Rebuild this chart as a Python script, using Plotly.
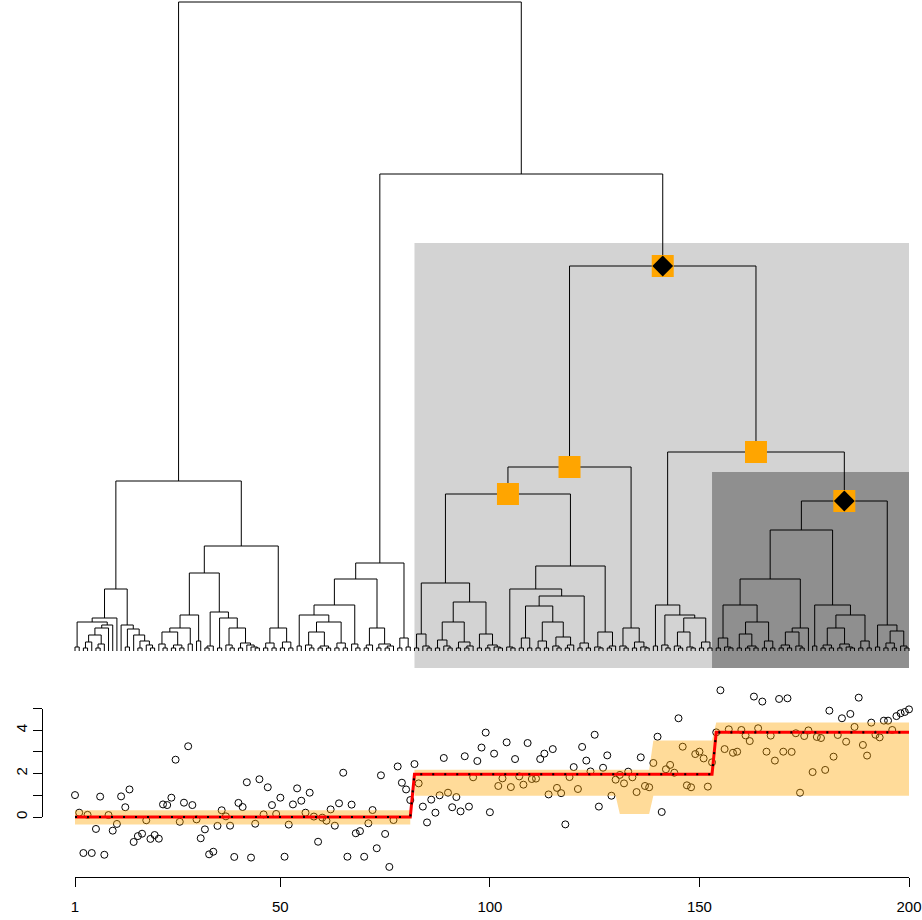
import plotly.graph_objects as go

# ---------------- data ----------------
obs_index = list(range(1, 201))
obs_values = [1.01, 0.2, -1.66, 0.1, -1.66, -0.55, 0.94, -1.74, 0.09, -0.63,
              -0.32, 0.95, 0.45, 1.27, -1.15, -0.88, -0.77, -0.15, -1.01, -0.83,
              -1.0, 0.58, 0.55, 0.89, 2.64, -0.22, 0.66, 3.26, 0.55, -0.11,
              -0.98, -0.57, -1.72, -1.6, -0.41, 0.31, 0.03, -0.4, -1.84, 0.65,
              0.46, 1.6, -1.87, -0.31, 1.74, 0.12, 1.37, 0.55, 0.14, 0.89,
              -1.83, -0.35, 0.58, 1.32, 0.75, 0.2, 1.12, 0.02, -1.14, -0.03,
              -0.17, 0.35, -0.4, 0.63, 2.04, -1.83, 0.57, -0.75, -0.65, -1.83,
              -0.29, 0.32, -1.44, 1.92, -0.78, -2.3, -0.14, 2.33, 1.58, 1.27,
              0.78, 2.44, 1.55, 0.48, -0.25, 0.8, 0.2, 1.0, 2.72, 1.12,
              0.45, 0.92, 0.26, 2.8, 0.48, 1.83, 2.58, 3.2, 3.89, 0.22,
              2.92, 1.43, 1.78, 3.44, 1.38, 2.67, 1.87, 1.49, 3.41, 1.75,
              1.77, 2.67, 2.92, 1.04, 3.13, 1.34, 1.1, -0.34, 1.84, 2.3,
              1.29, 3.23, 2.6, 2.1, 3.79, 0.48, 2.27, 2.84, 0.98, 1.72,
              1.94, 1.55, 2.09, 1.83, 1.15, 2.75, 1.43, 1.37, 2.49, 3.7,
              0.23, 2.2, 2.4, 2.04, 4.55, 3.24, 1.46, 1.37, 2.9, 3.01,
              2.7, 1.4, 2.52, 3.9, 5.84, 3.13, 4.04, 2.96, 3.01, 4.01,
              3.76, 3.5, 5.55, 4.09, 5.32, 3.01, 3.75, 2.6, 5.44, 3.01,
              5.47, 3.0, 3.86, 1.12, 3.73, 3.99, 2.07, 3.69, 3.64, 2.17,
              4.9, 2.78, 3.78, 4.55, 3.47, 4.75, 4.15, 5.5, 3.32, 2.83,
              4.35, 3.79, 3.67, 4.44, 4.44, 4.01, 4.65, 4.78, 4.84, 4.96]

# fitted segment means: (segment length, mean)
seg_lengths = [81, 72, 47]
seg_means = [0.0, 1.97, 3.9]

# uncertainty band runs: (run length, lower, upper, polygon group)
band_lengths = [81, 49, 8, 15, 47]
band_lower = [-0.34, 0.98, 0.14, 0.98, 0.98]
band_upper = [0.31, 2.18, 2.18, 3.52, 4.36]
band_group = [0, 1, 1, 1, 1]

# dendrogram (leaves in observation order); node = [left, right, merge height]
S3_8 = [[[3, 4, 3], 5, 9], [[6, 7, 3], 8, 7], 16]
LA1 = [[[1, 2, 4], [[S3_8, 9, 23], 10, 26], 29], 11, 33]
LA2 = [12, [[13, 14, 4], [15, [[16, 17, 3], [18, [19, 20, 3], 6], 10], 16], 22], 26]
LA = [LA1, LA2, 62]
A21 = [[21, [22, 23, 3], 7], [[24, 25, 3], [26, 27, 3], 6], 19]
LB1a = [[A21, [28, 29, 7], 23], [30, 31, 10], 36]
LB1b = [[[32, 33, 3], 34, 5],
        [[35, 36, 3], [[37, [38, 39, 3], 6], [[40, 41, 3], [42, [43, [44, 45, 3], 4], 6], 8], 23], 33], 39]
LB1 = [LB1a, LB1b, 78]
LB2 = [[[46, 47, 3], [48, 49, 3], 8], [[50, 51, 3], [52, 53, 3], 9], 23]
LB = [LB1, LB2, 105]
L = [LA, LB, 170]

R1a1a2 = [[[56, [57, 58, 3], 6], [[59, 60, 3], [61, 62, 3], 5], 19], [[63, 64, 3], [65, 66, 3], 8], 29]
R1a1 = [[[54, 55, 5], R1a1a2, 36], [67, [68, 69, 3], 7], 46]
R1a2 = [[[70, 71, 3], 72, 6], [[73, 74, 3], [[75, 76, 3], 77, 5], 7], 23]
R1a = [R1a1, R1a2, 72]
R1b = [[78, 79, 3], [80, 81, 4], 13]
R1 = [R1a, R1b, 88]

n419 = [[82, 83, 3], [84, [85, 86, 3], 5], 17]
n92 = [[[87, 88, 3], [89, [90, 91, 3], 5], 11], [[92, 93, 3], [[94, 95, 3], 96, 5], 9], 29]
n100 = [[97, 98, 3], [[99, 100, 3], [101, [102, 103, 3], 4], 6], 17]
R2a1a = [n419, [n92, n100, 49], 68]
n541 = [[[107, 108, 3], [109, 110, 3], 13],
        [[[111, 112, 3], [113, 114, 3], 10], [[115, [116, 117, 3], 5], [[118, 119, 3], 120, 6], 14], 29], 45]
n562 = [n541, [[121, 122, 3], [123, 124, 3], 8], 55]
n535 = [[104, [105, 106, 3], 4], n562, 62]
n608 = [[125, [126, 127, 3], 4], [[128, 129, 3], 130, 5], 19]
R2a1b = [n535, n608, 85]
R2a1 = [R2a1a, R2a1b, 157]
R2a2 = [[131, [132, 133, 3], 5], [[134, 135, 3], [136, [137, 138, 3], 4], 9], 23]
R2a = [R2a1, R2a2, 184]

n669 = [[139, 140, 5],
        [[141, [142, 143, 3], 6],
         [[[144, [145, 146, 3], 5], [147, [148, 149, 3], 4], 19], [[150, 151, 3], [152, 153, 3], 9], 33], 36], 46]
n741 = [[[154, 155, 3], [156, [157, 158, 3], 4], 13],
        [[[159, 160, 3], [[161, 162, 3], [163, 164, 3], 5], 17], [[165, 166, 3], [167, 168, 3], 10], 29], 46]
n801 = [[[[169, 170, 3], [171, 172, 3], 6], [173, [174, 175, 3], 5], 19], 176, 23]
n771 = [n741, n801, 72]
n832 = [[177, 178, 5],
        [[[[179, 180, 3], [181, 182, 3], 6], [[183, 184, 3], [185, [186, 187, 3], 4], 7], 23],
         [[188, 189, 3], [190, 191, 3], 10], 36], 46]
n888 = [[192, 193, 4], [[[194, 195, 3], [196, 197, 3], 8], [198, [199, 200, 3], 5], 20], 26]
n846 = [[n771, n832, 121], n888, 150]
R2b = [n669, n846, 199]
R2 = [R2a, R2b, 385]
R = [R1, R2, 477]
tree = [L, R, 649]

# highlighted clusters (leaf ranges)
square_nodes = [(82, 200), (82, 138), (82, 130), (139, 200), (154, 200)]
diamond_nodes = [(82, 200), (154, 200)]

# ---------------- geometry (pixels) ----------------
W, H = 922, 920
PX_FIRST, PX_LAST = 75, 909          # x pixel of leaf/obs 1 and 200
BASE_PX = 651                        # dendrogram leaf baseline
scale = (PX_LAST - PX_FIRST) / 199.0
xr_full = [1 - PX_FIRST / scale, 200 + (W - PX_LAST) / scale]

# ---------------- dendrogram layout ----------------
seg_x, seg_y, leaves, node_pos = [], [], [], {}


def walk(node):
    if isinstance(node, int):
        leaves.append(node)
        return float(node), 0.0, node, node
    xl, hl, lo, _ = walk(node[0])
    xr, hr, _, hi = walk(node[1])
    h = node[2]
    seg_x.extend([xl, xl, xr, xr, None])
    seg_y.extend([hl, h, h, hr, None])
    x = (xl + xr) / 2.0
    node_pos[(lo, hi)] = (x, h)
    return x, h, lo, hi


walk(tree)
assert leaves == obs_index, "leaf order"

fig = go.Figure()

# highlight rectangles behind the tree
rects = [(82, 200, -17, 408, "#D3D3D3"), (153, 200, -17, 179, "#8F8F8F")]
for x0, x1, y0, y1, col in rects:
    fig.add_shape(type="rect", xref="x", yref="y", x0=x0, x1=x1, y0=y0, y1=y1,
                  fillcolor=col, line=dict(width=0), layer="below")

fig.add_trace(go.Scatter(x=seg_x, y=seg_y, mode="lines", xaxis="x", yaxis="y",
                         line=dict(color="black", width=1), hoverinfo="skip"))
fig.add_trace(go.Scatter(x=[node_pos[k][0] for k in square_nodes],
                         y=[node_pos[k][1] for k in square_nodes],
                         mode="markers", xaxis="x", yaxis="y", hoverinfo="skip",
                         marker=dict(symbol="square", size=22, color="#FFA500", line=dict(width=0))))
fig.add_trace(go.Scatter(x=[node_pos[k][0] for k in diamond_nodes],
                         y=[node_pos[k][1] for k in diamond_nodes],
                         mode="markers", xaxis="x", yaxis="y", hoverinfo="skip",
                         marker=dict(symbol="diamond", size=16, color="black", line=dict(width=0))))

# ---------------- lower panel ----------------
fig.add_trace(go.Scatter(x=obs_index, y=obs_values, mode="markers", xaxis="x2", yaxis="y2",
                         cliponaxis=False, hoverinfo="skip",
                         marker=dict(symbol="circle-open", size=7, color="black", line=dict(width=1))))

# band polygons
lo_pt, hi_pt, grp_pt = [], [], []
for n, lo, hi, g in zip(band_lengths, band_lower, band_upper, band_group):
    lo_pt += [lo] * n
    hi_pt += [hi] * n
    grp_pt += [g] * n
for g in sorted(set(band_group)):
    idx = [i for i in range(200) if grp_pt[i] == g]
    xs = [obs_index[i] for i in idx] + [obs_index[i] for i in reversed(idx)]
    ys = [hi_pt[i] for i in idx] + [lo_pt[i] for i in reversed(idx)]
    fig.add_trace(go.Scatter(x=xs, y=ys, mode="lines", fill="toself", xaxis="x2", yaxis="y2",
                             fillcolor="rgba(255,165,0,0.4)", line=dict(width=0), hoverinfo="skip"))

fit = []
for n, m in zip(seg_lengths, seg_means):
    fit += [m] * n
fig.add_trace(go.Scatter(x=obs_index, y=fit, mode="lines", xaxis="x2", yaxis="y2", hoverinfo="skip",
                         line=dict(color="#FF0000", width=3)))
fig.add_trace(go.Scatter(x=obs_index, y=fit, mode="lines", xaxis="x2", yaxis="y2", hoverinfo="skip",
                         line=dict(color="black", width=2.2, dash="2px,10px")))
# axis carrier for the visible y axis
fig.add_trace(go.Scatter(x=[], y=[], xaxis="x2", yaxis="y3", hoverinfo="skip"))

ZERO_PX, UNIT_PX = 817.0, 21.7
font = dict(family="Liberation Sans, Arial, sans-serif", size=15, color="black")

fig.update_layout(
    width=W, height=H, margin=dict(l=0, r=0, t=0, b=0, pad=0, autoexpand=False),
    paper_bgcolor="white", plot_bgcolor="rgba(0,0,0,0)", showlegend=False,
    xaxis=dict(domain=[0, 1], range=xr_full, visible=False, anchor="y"),
    yaxis=dict(domain=[0, 1], range=[BASE_PX - H, BASE_PX], visible=False, anchor="x"),
    xaxis2=dict(domain=[PX_FIRST / W, PX_LAST / W], range=[1, 200], anchor="free",
                position=(H - 876.7) / H, showline=True, linecolor="black", linewidth=1,
                ticks="outside", ticklen=9, tickcolor="black", tickwidth=1, ticklabelstandoff=7,
                tickvals=[1, 50, 100, 150, 200], showgrid=False, zeroline=False, tickfont=font,
                automargin=False),
    yaxis2=dict(domain=[0, 0.5], range=[-(H - ZERO_PX) / UNIT_PX, (ZERO_PX - H * 0.5) / UNIT_PX],
                visible=False, anchor="x2"),
    yaxis3=dict(domain=[(H - ZERO_PX) / H, (H - ZERO_PX + 5 * UNIT_PX) / H], range=[0, 5],
                anchor="free", position=41.7 / W, showline=True, linecolor="black", linewidth=1,
                ticks="outside", ticklen=9, tickcolor="black", tickwidth=1,
                tickvals=[0, 1, 2, 3, 4, 5], ticktext=["0", "", "2", "", "4", ""],
                tickangle=-90, showgrid=False, zeroline=False, tickfont=font, automargin=False),
)

fig.write_html("out.html")
